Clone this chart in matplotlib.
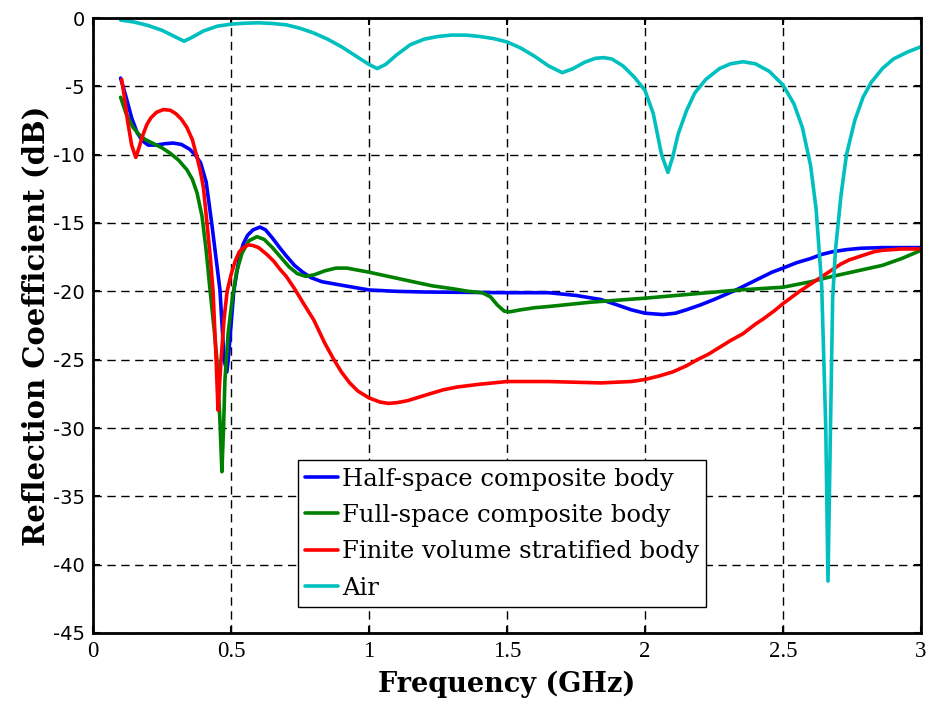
import matplotlib
matplotlib.use("Agg")
import matplotlib.pyplot as plt

# ---- data ----
half_f = [0.10, 0.12, 0.14, 0.16, 0.18, 0.20, 0.23, 0.26, 0.29, 0.32, 0.35, 0.37, 0.39, 0.41, 0.43,
          0.46, 0.475, 0.485, 0.49, 0.51, 0.53, 0.545, 0.56, 0.58, 0.605, 0.625, 0.65, 0.68, 0.70,
          0.73, 0.76, 0.79, 0.83, 0.90, 1.00, 1.10, 1.20, 1.50, 1.65, 1.75, 1.84, 1.90, 1.95, 2.00,
          2.065, 2.11, 2.15, 2.20, 2.25, 2.29, 2.33, 2.38, 2.42, 2.46, 2.50, 2.55, 2.60, 2.64, 2.68,
          2.73, 2.78, 2.86, 3.00]
half_db = [-4.4, -5.8, -7.3, -8.4, -9.0, -9.3, -9.3, -9.2, -9.15, -9.25, -9.6, -10.0, -10.6, -12.0, -15.0,
           -19.9, -25.0, -25.9, -25.0, -20.0, -17.5, -16.5, -15.9, -15.5, -15.3, -15.5, -16.1, -16.9, -17.4,
           -18.1, -18.6, -19.0, -19.3, -19.55, -19.9, -20.0, -20.05, -20.1, -20.1, -20.3, -20.6, -21.0, -21.35, -21.6,
           -21.7, -21.6, -21.35, -21.0, -20.6, -20.25, -19.9, -19.4, -19.0, -18.6, -18.3, -17.9, -17.6, -17.3, -17.1,
           -16.95, -16.85, -16.8, -16.8]

full_f = [0.10, 0.12, 0.145, 0.17, 0.19, 0.22, 0.25, 0.28, 0.31, 0.34, 0.36, 0.377, 0.395, 0.41, 0.424,
          0.44, 0.449, 0.46, 0.467, 0.473, 0.478, 0.49, 0.505, 0.52, 0.54, 0.565, 0.594, 0.62, 0.65,
          0.68, 0.71, 0.74, 0.77, 0.80, 0.84, 0.88, 0.92, 0.96, 1.00, 1.08, 1.16, 1.23, 1.30, 1.36,
          1.41, 1.44, 1.465, 1.49, 1.51, 1.55, 1.60, 1.656, 1.80, 2.00, 2.17, 2.34, 2.50, 2.60, 2.68,
          2.77, 2.86, 2.93, 3.00]
full_db = [-5.8, -7.0, -8.0, -8.6, -8.9, -9.2, -9.5, -9.9, -10.4, -11.1, -11.8, -12.8, -14.5, -17.0, -19.9,
           -23.0, -25.0, -29.5, -33.2, -30.0, -26.5, -23.0, -20.5, -18.6, -17.2, -16.3, -16.0, -16.2, -16.8,
           -17.5, -18.2, -18.7, -18.9, -18.8, -18.5, -18.3, -18.3, -18.45, -18.6, -18.95, -19.3, -19.6, -19.8, -20.0,
           -20.1, -20.4, -21.0, -21.45, -21.5, -21.35, -21.2, -21.1, -20.8, -20.5, -20.2, -19.9, -19.7, -19.3, -18.9,
           -18.5, -18.1, -17.6, -17.0]

fin_f = [0.104, 0.115, 0.125, 0.14, 0.155, 0.165, 0.18, 0.195, 0.21, 0.23, 0.255, 0.28, 0.30, 0.32, 0.34,
         0.36, 0.377, 0.39, 0.40, 0.413, 0.425, 0.435, 0.446, 0.453, 0.458, 0.464, 0.475, 0.486, 0.50,
         0.515, 0.53, 0.545, 0.562, 0.58, 0.60, 0.63, 0.655, 0.678, 0.70, 0.73, 0.76, 0.80, 0.84, 0.87,
         0.90, 0.93, 0.96, 1.00, 1.04, 1.07, 1.10, 1.14, 1.18, 1.22, 1.27, 1.32, 1.40, 1.50, 1.65, 1.84,
         1.95, 2.00, 2.05, 2.10, 2.15, 2.19, 2.23, 2.27, 2.31, 2.355, 2.40, 2.43, 2.47, 2.50, 2.53, 2.56,
         2.59, 2.62, 2.65, 2.68, 2.71, 2.74, 2.77, 2.80, 2.83, 2.86, 2.93, 3.00]
fin_db = [-4.5, -6.0, -7.5, -9.3, -10.2, -9.6, -8.6, -7.8, -7.3, -6.9, -6.7, -6.75, -7.0, -7.4, -8.0,
          -8.9, -10.2, -11.3, -12.4, -15.0, -17.5, -20.0, -25.0, -28.7, -27.0, -25.0, -22.0, -20.0, -18.8,
          -17.8, -17.1, -16.8, -16.6, -16.65, -16.8, -17.3, -17.8, -18.4, -18.9, -19.8, -20.8, -22.1, -23.8, -24.9,
          -25.9, -26.7, -27.3, -27.8, -28.1, -28.2, -28.15, -28.0, -27.75, -27.5, -27.2, -27.0, -26.8, -26.6, -26.6, -26.7,
          -26.6, -26.45, -26.2, -25.9, -25.45, -25.0, -24.6, -24.1, -23.6, -23.1, -22.4, -22.0, -21.4, -20.9, -20.45, -20.0,
          -19.6, -19.2, -18.8, -18.4, -18.0, -17.7, -17.5, -17.3, -17.1, -17.0, -16.9, -16.9]

air_f = [0.10, 0.15, 0.20, 0.25, 0.29, 0.33, 0.36, 0.40, 0.45, 0.50, 0.55, 0.60, 0.65, 0.70, 0.75,
         0.80, 0.85, 0.90, 0.95, 1.00, 1.03, 1.06, 1.10, 1.15, 1.20, 1.25, 1.30, 1.35, 1.40, 1.45,
         1.50, 1.55, 1.60, 1.65, 1.70, 1.74, 1.78, 1.82, 1.85, 1.88, 1.92, 1.96, 2.00, 2.03, 2.06,
         2.083, 2.10, 2.12, 2.15, 2.18, 2.22, 2.27, 2.31, 2.355, 2.40, 2.45, 2.50, 2.54, 2.57, 2.60,
         2.62, 2.64, 2.655, 2.663, 2.672, 2.68, 2.69, 2.71, 2.73, 2.76, 2.79, 2.82, 2.86, 2.90, 2.95, 3.00]
air_db = [-0.15, -0.3, -0.55, -0.9, -1.3, -1.7, -1.4, -0.95, -0.6, -0.45, -0.38, -0.35, -0.4, -0.5, -0.75,
          -1.1, -1.55, -2.1, -2.75, -3.4, -3.7, -3.4, -2.7, -1.95, -1.55, -1.35, -1.25, -1.25, -1.35, -1.5,
          -1.75, -2.2, -2.8, -3.5, -4.0, -3.7, -3.25, -2.95, -2.9, -3.0, -3.5, -4.3, -5.3, -7.0, -10.0,
          -11.3, -10.2, -8.5, -6.8, -5.5, -4.5, -3.7, -3.35, -3.2, -3.35, -3.9, -4.9, -6.3, -8.0, -10.8,
          -14.0, -19.5, -30.0, -41.2, -30.0, -20.5, -17.0, -13.0, -10.0, -7.5, -5.8, -4.7, -3.7, -3.0, -2.5, -2.1]

labels = ["Half-space composite body", "Full-space composite body",
          "Finite volume stratified body", "Air"]
colors = ["#0000ff", "#008000", "#ff0000", "#00bfbf"]
x_ticks = [0, 0.5, 1, 1.5, 2, 2.5, 3]
x_ticklabels = ["0", "0.5", "1", "1.5", "2", "2.5", "3"]
y_ticks = [0, -5, -10, -15, -20, -25, -30, -35, -40, -45]

# ---- figure ----
fig = plt.figure(figsize=(9.29, 7.04), dpi=100)
ax = fig.add_axes([93 / 929, 1 - 633 / 704, 828 / 929, 615 / 704])

series = [(half_f, half_db), (full_f, full_db), (fin_f, fin_db), (air_f, air_db)]
for (f, d), lab, c in zip(series, labels, colors):
    ax.plot(f, d, color=c, lw=2.6, label=lab, solid_joinstyle="round", solid_capstyle="round")

ax.set_xlim(0, 3)
ax.set_ylim(-45, 0)
ax.set_xticks(x_ticks)
ax.set_xticklabels(x_ticklabels, family="Liberation Serif", fontsize=16.5)
ax.set_yticks(y_ticks)
ax.set_yticklabels([str(v) for v in y_ticks], family="DejaVu Sans", fontsize=14)
ax.tick_params(direction="in", length=5, width=1.5, top=True, right=True, pad=6)
ax.grid(True, color="black", linestyle=(0, (6, 4)), linewidth=1.0)
for s in ax.spines.values():
    s.set_linewidth(2.0)

ax.set_xlabel("Frequency (GHz)", family="DejaVu Serif", fontweight="bold", fontsize=19.5, labelpad=6)
ax.set_ylabel("Reflection Coefficient (dB)", family="DejaVu Serif", fontweight="bold", fontsize=21, labelpad=2)

leg = ax.legend(loc="lower left", bbox_to_anchor=((298 - 93) / 828, (633 - 607) / 615),
                borderaxespad=0, prop={"family": "DejaVu Serif", "size": 17.5},
                frameon=True, fancybox=False, edgecolor="black", framealpha=1,
                handlelength=1.35, handletextpad=0.15, labelspacing=0.55, borderpad=0.3)
leg.get_frame().set_linewidth(1.0)

fig.savefig("out.png", dpi=100)
